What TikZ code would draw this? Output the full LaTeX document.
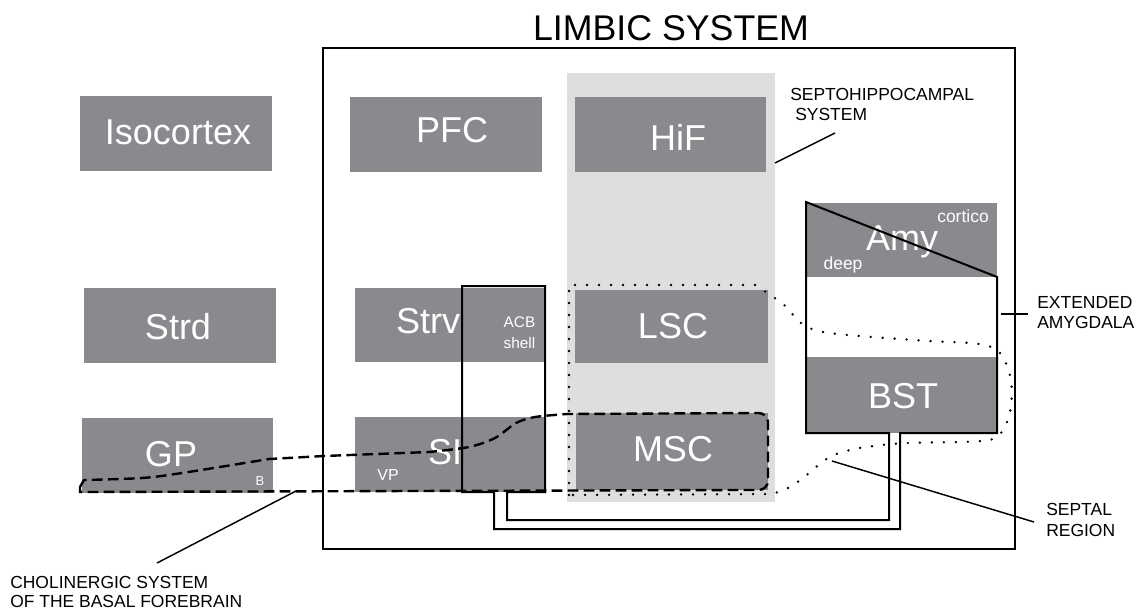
\documentclass[tikz,border=0pt]{standalone}
\usepackage{fontspec}
\setmainfont{Liberation Sans}
\usetikzlibrary{fit}
\definecolor{boxgray}{RGB}{138,138,142}
\definecolor{colgray}{RGB}{222,222,222}
\begin{document}
\begin{tikzpicture}[x=0.75pt,y=-0.75pt,
  graybox/.style={fill=boxgray, inner sep=0pt, draw=none},
  colbox/.style={fill=colgray, inner sep=0pt, draw=none},
  boxlab/.style={text=white, font=\fontsize{27}{30}\selectfont, inner sep=0pt, anchor=base},
  smalllab/.style={text=white, inner sep=0pt, anchor=base},
  caption/.style={font=\fontsize{13.1}{15}\selectfont, inner sep=0pt, anchor=base west},
  outline/.style={line width=1.5pt, line join=miter},
  frame/.style={line width=1.8pt},
  leader/.style={line width=1.1pt},
  dashline/.style={line width=1.8pt, dash pattern=on 8pt off 4pt},
  dotline/.style={line width=2pt, line cap=round, dash pattern=on 0pt off 9pt},
]
\useasboundingbox (0,0) rectangle (1141,611);

% title and limbic frame
\node[font=\fontsize{26.8}{30}\selectfont, inner sep=0pt, anchor=base] (title) at (671,40) {LIMBIC SYSTEM};
\node[frame, draw, fit={(323,48) (1015,549)}, inner sep=0pt] (limbic) {};

% septohippocampal column
\node[colbox, fit={(567,73) (775,502)}] (col) {};

% gray boxes
\node[graybox, fit={(80,96) (272,171)}] (iso) {};
\node[graybox, fit={(84,288) (276,363)}] (strd) {};
\node[graybox, fit={(82,418) (273,493)}] (gp) {};
\node[graybox, fit={(350,97) (542,172)}] (pfc) {};
\node[graybox, fit={(355,288) (545,362)}] (strv) {};
\node[graybox, fit={(355,417) (545,492)}] (si) {};
\node[graybox, fit={(575,97) (766,172)}] (hif) {};
\node[graybox, fit={(575,290) (768,363)}] (lsc) {};
\node[graybox, fit={(576,413) (768,490)}] (msc) {};
\node[graybox, fit={(806,203) (997,277)}] (amy) {};
\node[graybox, fit={(806,357) (997,433)}] (bst) {};

% box labels
\node[boxlab] (isoT) at (178,144) {Isocortex};
\node[boxlab] (strdT) at (178,339.4) {Strd};
\node[boxlab] (gpT) at (171,466) {GP};
\node[boxlab] (pfcT) at (452,142.4) {PFC};
\node[boxlab] (strvT) at (428,333) {Strv};
\node[boxlab] (siT) at (445,464) {SI};
\node[boxlab] (hifT) at (678,150.4) {HiF};
\node[boxlab] (lscT) at (673,338) {LSC};
\node[boxlab] (mscT) at (673,461.4) {MSC};
\node[boxlab] (bstT) at (903,408) {BST};
\node[boxlab] (amyT) at (902,250.5) {Amy};

% small labels
\node[smalllab, font=\fontsize{11.5}{13}\selectfont] (acbT) at (519.5,327) {ACB};
\node[smalllab, font=\fontsize{11.5}{13}\selectfont] (shellT) at (519.5,348) {shell};
\node[smalllab, font=\fontsize{12}{14}\selectfont] (vpT) at (388,480) {VP};
\node[smalllab, font=\fontsize{9.75}{12}\selectfont] (bT) at (260,485) {B};
\node[smalllab, font=\fontsize{13.1}{15}\selectfont] (deepT) at (843,269) {deep};
\node[smalllab, font=\fontsize{13.1}{15}\selectfont] (corticoT) at (963,222) {cortico};

% extended amygdala / ACB outline with connecting tube
\draw[outline] (806,202) -- (997,277) -- (997,433) -- (900,433) -- (900,529)
  -- (494,529) -- (494,492) -- (462,492) -- (462,286) -- (545,286) -- (545,492)
  -- (507,492) -- (507,520) -- (889,520) -- (889,433) -- (806,433) -- cycle;

% septal region (dotted)
\draw[dotline] (569,495) -- (569,285) -- (755,285)
  -- plot[smooth, tension=0.55] coordinates {(755,285) (783,304) (801,323) (823,332)
     (872,337) (930,341) (979,344) (1000,353) (1011,380) (1010,412) (1000,434)
     (981,441) (908,443) (874,446) (850,450) (828,458) (803,478) (788,488) (772,494)}
  -- cycle;

% cholinergic system (dashed)
\draw[dashline] (80,487) -- (84,480)
  -- plot[smooth, tension=0.5] coordinates {(84,480) (142,478) (182,473) (269,459)}
  -- (324,456) -- (429,452)
  -- plot[smooth, tension=0.5] coordinates {(429,452) (469,447) (495,438) (516,423) (535,417) (567,414)}
  -- (755,413) [rounded corners=7pt] -- (768,413) -- (768,490) [sharp corners] -- (740,490)
  -- (80,492) -- cycle;

% captions
\node[caption] (septoA) at (790,100.3) {SEPTOHIPPOCAMPAL};
\node[caption] (septoB) at (795,120.3) {SYSTEM};
\node[caption] (extA) at (1037,308) {EXTENDED};
\node[caption] (extB) at (1037,328) {AMYGDALA};
\node[caption] (sepA) at (1046,515) {SEPTAL};
\node[caption] (sepB) at (1046,536) {REGION};
\node[caption] (cholA) at (10,588) {CHOLINERGIC SYSTEM};
\node[caption] (cholB) at (10,607) {OF THE BASAL FOREBRAIN};

% leader lines
\coordinate (septoP) at (775,163);
\coordinate (septoQ) at (835,133);
\coordinate (extP) at (1001,314);
\coordinate (extQ) at (1028,314);
\coordinate (sepP) at (832,461);
\coordinate (sepQ) at (1034,522);
\coordinate (cholP) at (296,491);
\coordinate (cholQ) at (157,563);
\draw[leader] (septoP) -- (septoQ);
\draw[leader] (extP) -- (extQ);
\draw[leader] (sepP) -- (sepQ);
\draw[leader] (cholP) -- (cholQ);
\end{tikzpicture}
\end{document}
